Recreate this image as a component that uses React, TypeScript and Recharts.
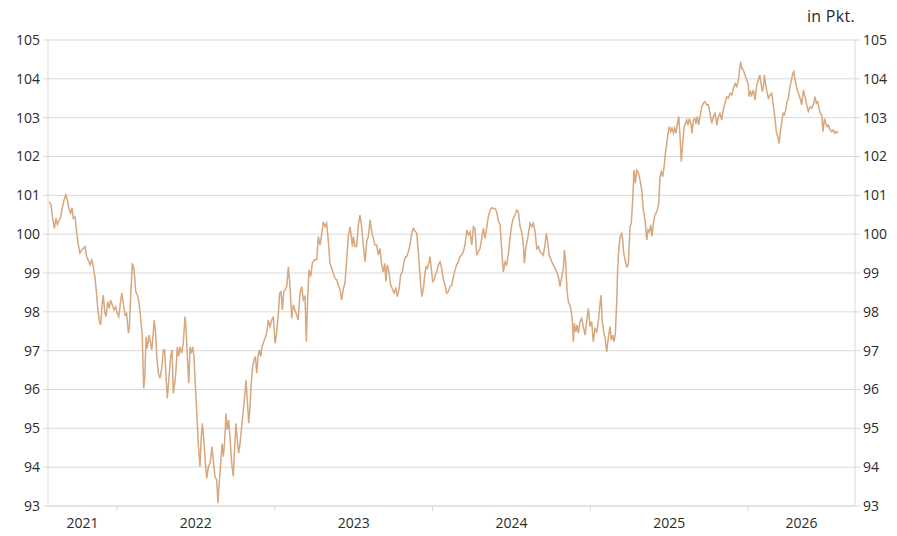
import React from "react";
import { LineChart, Line, XAxis, YAxis, CartesianGrid } from "recharts";

// Decimal-year positions of the sampled points
const dates: number[] = [
  // 2021 H2 – early 2022
  2021.571, 2021.582, 2021.592, 2021.603, 2021.613, 2021.622, 2021.632, 2021.643, 2021.653, 2021.664,
  2021.675, 2021.685, 2021.696, 2021.706, 2021.715, 2021.723, 2021.734, 2021.745, 2021.755, 2021.765,
  2021.776, 2021.786, 2021.797, 2021.808, 2021.818, 2021.829, 2021.840, 2021.850, 2021.861, 2021.871,
  2021.878, 2021.888, 2021.897, 2021.905, 2021.913, 2021.922, 2021.930, 2021.941, 2021.951, 2021.960,
  2021.970, 2021.981, 2021.992, 2022.002, 2022.011, 2022.019, 2022.030, 2022.040, 2022.051, 2022.061,
  2022.072, 2022.078, 2022.087, 2022.097, 2022.108, 2022.119, 2022.129, 2022.139, 2022.150, 2022.160,
  2022.169, 2022.176, 2022.184, 2022.192, 2022.203,
  // 2022
  2022.209, 2022.220, 2022.230, 2022.236, 2022.245, 2022.252, 2022.262, 2022.273, 2022.283, 2022.294,
  2022.302, 2022.311, 2022.319, 2022.330, 2022.340, 2022.349, 2022.357, 2022.366, 2022.374, 2022.382,
  2022.391, 2022.399, 2022.410, 2022.420, 2022.431, 2022.437, 2022.446, 2022.455, 2022.463, 2022.471,
  2022.480, 2022.488, 2022.496, 2022.505, 2022.515, 2022.526, 2022.534, 2022.541, 2022.552, 2022.560,
  2022.569, 2022.579, 2022.590, 2022.602, 2022.610, 2022.621, 2022.632, 2022.640, 2022.648, 2022.657,
  2022.666, 2022.674, 2022.683, 2022.691, 2022.699, 2022.708, 2022.716, 2022.727, 2022.737, 2022.746,
  2022.754, 2022.763, 2022.771, 2022.780, 2022.790, 2022.801, 2022.811, 2022.818, 2022.826, 2022.835,
  2022.843, 2022.851, 2022.860, 2022.868, 2022.877, 2022.886, 2022.894, 2022.902, 2022.911, 2022.919,
  2022.927,
  // 2023
  2022.949, 2022.959, 2022.970, 2022.981, 2022.991, 2023.002, 2023.012, 2023.023, 2023.031, 2023.040,
  2023.048, 2023.057, 2023.065, 2023.076, 2023.086, 2023.097, 2023.107, 2023.118, 2023.128, 2023.139,
  2023.149, 2023.160, 2023.171, 2023.181, 2023.192, 2023.200, 2023.209, 2023.217, 2023.228, 2023.238,
  2023.251, 2023.266, 2023.276, 2023.287, 2023.298, 2023.308, 2023.319, 2023.329, 2023.339, 2023.350,
  2023.361, 2023.371, 2023.382, 2023.393, 2023.403, 2023.414, 2023.424, 2023.435, 2023.445, 2023.456,
  2023.466, 2023.477, 2023.483, 2023.492, 2023.498, 2023.509, 2023.519, 2023.530, 2023.540, 2023.551,
  2023.561, 2023.572, 2023.583, 2023.593, 2023.604, 2023.615, 2023.625, 2023.635, 2023.646, 2023.656,
  // late 2023 – 2024
  2023.667, 2023.678, 2023.688, 2023.697, 2023.705, 2023.713, 2023.724, 2023.735, 2023.745, 2023.756,
  2023.767, 2023.777, 2023.788, 2023.798, 2023.809, 2023.819, 2023.828, 2023.836, 2023.847, 2023.857,
  2023.868, 2023.878, 2023.889, 2023.900, 2023.910, 2023.916, 2023.925, 2023.933, 2023.942, 2023.951,
  2023.959, 2023.967, 2023.976, 2023.984, 2023.992, 2024.001, 2024.010, 2024.018, 2024.027, 2024.037,
  2024.048, 2024.058, 2024.068, 2024.079, 2024.090, 2024.100, 2024.111, 2024.122, 2024.132, 2024.143,
  2024.153, 2024.164, 2024.174, 2024.185, 2024.195, 2024.206, 2024.217, 2024.227, 2024.238, 2024.249,
  2024.259, 2024.269, 2024.280, 2024.290, 2024.301, 2024.312, 2024.322, 2024.333, 2024.344, 2024.354,
  2024.365, 2024.375, 2024.385,
  // 2024 H2 – early 2025
  2024.396, 2024.407, 2024.417, 2024.428, 2024.434, 2024.441, 2024.449, 2024.460, 2024.470, 2024.481,
  2024.491, 2024.502, 2024.512, 2024.523, 2024.534, 2024.544, 2024.555, 2024.565, 2024.576, 2024.582,
  2024.591, 2024.599, 2024.607, 2024.618, 2024.629, 2024.639, 2024.650, 2024.661, 2024.671, 2024.681,
  2024.692, 2024.702, 2024.713, 2024.721, 2024.730, 2024.739, 2024.747, 2024.756, 2024.766, 2024.777,
  2024.787, 2024.798, 2024.808, 2024.819, 2024.829, 2024.836, 2024.844, 2024.853, 2024.861, 2024.870,
  2024.878, 2024.886, 2024.893, 2024.899, 2024.908, 2024.916, 2024.924, 2024.935, 2024.946, 2024.956,
  2024.967, 2024.978, 2024.988, 2024.998, 2025.009, 2025.019, 2025.030, 2025.041, 2025.051, 2025.062,
  2025.068, 2025.076, 2025.085, 2025.094, 2025.104, 2025.114,
  // 2025
  2025.125, 2025.133, 2025.142, 2025.151, 2025.159, 2025.168, 2025.174, 2025.182, 2025.190, 2025.199,
  2025.206, 2025.212, 2025.220, 2025.231, 2025.241, 2025.252, 2025.260, 2025.269, 2025.277, 2025.286,
  2025.294, 2025.305, 2025.315, 2025.326, 2025.336, 2025.347, 2025.358, 2025.366, 2025.374, 2025.383,
  2025.391, 2025.400, 2025.409, 2025.417, 2025.425, 2025.434, 2025.442, 2025.450, 2025.459, 2025.468,
  2025.476, 2025.485, 2025.493, 2025.501, 2025.510, 2025.518, 2025.527, 2025.535, 2025.544, 2025.552,
  2025.561, 2025.569, 2025.577, 2025.586, 2025.594, 2025.603, 2025.611, 2025.620, 2025.628, 2025.637,
  2025.645, 2025.653, 2025.662, 2025.670, 2025.679, 2025.687, 2025.696, 2025.706, 2025.717, 2025.727,
  2025.738, 2025.748, 2025.759, 2025.770, 2025.780, 2025.791, 2025.802, 2025.812, 2025.822, 2025.833,
  2025.843,
  // late 2025 – 2026
  2025.854, 2025.865, 2025.875, 2025.886, 2025.897, 2025.907, 2025.918, 2025.928, 2025.939, 2025.947,
  2025.954, 2025.960, 2025.970, 2025.981, 2025.992, 2026.002, 2026.006, 2026.015, 2026.023, 2026.034,
  2026.044, 2026.055, 2026.065, 2026.074, 2026.082, 2026.091, 2026.100, 2026.103, 2026.112, 2026.120,
  2026.129, 2026.139, 2026.150, 2026.160, 2026.171, 2026.179, 2026.188, 2026.197, 2026.205, 2026.214,
  2026.222, 2026.230, 2026.239, 2026.247, 2026.256, 2026.264, 2026.273, 2026.281, 2026.290, 2026.298,
  2026.309, 2026.319, 2026.330, 2026.340, 2026.351, 2026.361, 2026.372, 2026.382, 2026.393, 2026.404,
  2026.414, 2026.425, 2026.433, 2026.442, 2026.450, 2026.458, 2026.467, 2026.475, 2026.484, 2026.493,
  2026.501, 2026.509, 2026.520, 2026.531, 2026.541, 2026.552, 2026.562, 2026.569,
];

// Index values in points (in Pkt.)
const values: number[] = [
  100.84, 100.75, 100.41, 100.15, 100.41, 100.25, 100.34, 100.45, 100.67, 100.88,
  101.01, 100.88, 100.65, 100.54, 100.68, 100.41, 100.45, 100.02, 99.72, 99.51,
  99.59, 99.63, 99.68, 99.42, 99.33, 99.21, 99.33, 99.16, 98.86, 98.43,
  98.09, 97.75, 97.66, 98.18, 98.43, 98.0, 97.88, 98.26, 98.09, 98.3,
  98.18, 98.05, 98.13, 97.96, 97.88, 98.13, 98.48, 98.22, 97.92, 97.96,
  97.45, 97.58, 98.43, 99.25, 99.08, 98.52, 98.43, 98.26, 97.83, 97.4,
  96.03, 96.29, 97.36, 97.06, 97.4,
  97.27, 97.02, 97.45, 97.79, 97.45, 96.85, 96.42, 96.29, 96.54, 97.02,
  97.02, 96.33, 95.77, 96.33, 96.85, 97.02, 95.9, 96.16, 96.5, 97.1,
  96.85, 97.1, 96.93, 97.19, 97.88, 97.62, 96.85, 96.16, 97.1, 96.93,
  97.1, 96.85, 96.16, 95.47, 94.61, 94.01, 94.78, 95.13, 94.61, 94.1,
  93.71, 94.01, 94.1, 94.53, 94.18, 93.76, 93.67, 93.07, 93.58, 94.1,
  94.61, 94.27, 94.7, 95.39, 94.96, 95.21, 94.78, 94.1, 93.76, 94.53,
  95.13, 94.7, 94.36, 94.61, 95.04, 95.47, 95.9, 96.24, 95.73, 95.13,
  95.56, 96.16, 96.59, 96.76, 96.85, 96.42, 96.85, 97.02, 96.85, 97.1,
  97.19,
  97.45, 97.79, 97.62, 97.79, 97.88, 97.19, 97.45, 97.96, 98.48, 98.52,
  98.05, 98.52, 98.56, 98.65, 99.16, 98.65, 97.83, 98.18, 98.05, 97.92,
  97.79, 98.48, 98.65, 98.31, 98.39, 97.23, 98.39, 99.08, 98.91, 99.25,
  99.34, 99.34, 99.94, 99.72, 100.02, 100.32, 100.19, 100.28, 99.85, 99.25,
  99.12, 98.99, 98.86, 98.82, 98.69, 98.56, 98.31, 98.61, 98.73, 99.34,
  99.94, 100.19, 100.02, 99.68, 99.94, 99.68, 99.68, 100.24, 100.49, 100.19,
  99.72, 99.29, 99.81, 99.94, 100.37, 100.06, 99.89, 99.72, 99.72, 99.46,
  99.63, 99.21, 99.03, 99.25, 98.78, 99.21, 99.03, 98.69, 98.6, 98.48,
  98.6, 98.39, 98.6, 98.95, 99.03, 99.29, 99.42, 99.42, 99.55, 99.72,
  100.02, 100.15, 100.08, 100.02, 99.55, 99.21, 98.69, 98.39, 98.6, 98.95,
  99.16, 99.12, 99.25, 99.42, 99.12, 98.78, 98.82, 98.95, 99.03, 99.21,
  99.29, 99.12, 98.86, 98.69, 98.48, 98.52, 98.65, 98.69, 98.9, 99.08,
  99.21, 99.29, 99.42, 99.46, 99.55, 99.72, 100.11, 99.98, 100.06, 99.72,
  100.19, 100.15, 99.46, 99.55, 99.63, 99.89, 100.15, 99.89, 100.19, 100.45,
  100.62, 100.68, 100.66,
  100.66, 100.58, 100.36, 100.24, 99.89, 99.46, 99.03, 99.29, 99.21, 99.51,
  99.89, 100.24, 100.41, 100.49, 100.62, 100.58, 100.19, 100.06, 99.72, 99.25,
  99.63, 99.81, 99.98, 100.28, 100.19, 100.28, 100.06, 99.63, 99.68, 99.55,
  99.51, 99.46, 99.72, 100.02, 99.81, 99.46, 99.38, 99.29, 99.21, 99.12,
  99.03, 98.9, 98.65, 98.9, 99.12, 99.59, 99.29, 98.52, 98.26, 98.18,
  98.05, 97.79, 97.23, 97.7, 97.49, 97.66, 97.45, 97.75, 97.83, 97.62,
  97.4, 97.79, 98.09, 97.62, 97.75, 97.23, 97.57, 97.49, 97.75, 98.22,
  98.43, 97.75, 97.49, 97.32, 96.97, 97.32,
  97.62, 97.27, 97.4, 97.23, 97.45, 98.3, 99.16, 99.68, 99.94, 100.02,
  99.85, 99.51, 99.34, 99.16, 99.21, 100.19, 100.28, 100.88, 101.65, 101.31,
  101.65, 101.57, 101.4, 101.14, 100.62, 100.36, 99.85, 100.11, 100.06, 100.24,
  99.94, 100.28, 100.49, 100.54, 100.62, 100.79, 101.48, 101.61, 101.48, 101.74,
  102.08, 102.34, 102.6, 102.77, 102.64, 102.73, 102.6, 102.73, 102.6, 102.85,
  103.03, 102.51, 101.87, 102.34, 102.73, 102.85, 102.94, 102.81, 102.98, 102.85,
  102.6, 102.94, 102.98, 102.85, 103.03, 102.81, 103.03, 103.28, 103.37, 103.41,
  103.33, 103.33, 103.11, 102.85, 103.03, 103.11, 102.81, 103.03, 103.11, 102.94,
  103.2,
  103.37, 103.54, 103.5, 103.63, 103.58, 103.76, 103.88, 103.8, 103.97, 104.27,
  104.44, 104.27, 104.23, 104.1, 103.97, 103.84, 103.54, 103.67, 103.58, 103.71,
  103.45, 103.84, 103.97, 104.1, 103.88, 103.67, 103.88, 104.1, 103.84, 103.67,
  103.5, 103.58, 103.63, 103.33, 102.98, 102.64, 102.51, 102.34, 102.64, 102.9,
  103.11, 103.07, 103.2, 103.41, 103.5, 103.76, 103.93, 104.1, 104.19, 103.97,
  103.76, 103.63, 103.5, 103.33, 103.71, 103.54, 103.33, 103.16, 103.28, 103.24,
  103.33, 103.54, 103.37, 103.41, 103.24, 103.11, 103.07, 102.64, 102.98, 102.85,
  102.77, 102.81, 102.68, 102.64, 102.68, 102.6, 102.64, 102.6,
];

const yearLabels: string[] = ["2021", "2022", "2023", "2024", "2025", "2026"];
const yearBoundaries: number[] = [2022, 2023, 2024, 2025, 2026];
const yTicks: number[] = [93, 94, 95, 96, 97, 98, 99, 100, 101, 102, 103, 104, 105];
const xDomain: [number, number] = [2021.5626, 2026.678];
const unitLabel = "in Pkt.";

const data = dates.map((t, i) => ({ t, v: values[i] }));

// label positions: centre of each year's visible portion
const labelPositions = yearLabels.map((y) => {
  const start = Math.max(Number(y), xDomain[0]);
  const end = Math.min(Number(y) + 1, xDomain[1]);
  return (start + end) / 2;
});
const xTicks = [...yearBoundaries, ...labelPositions];

const GRID = "#d9d9d9";
const TEXT = "#2b2b2b";
const FONT = "'Open Sans', sans-serif";

const XTick = (props: any) => {
  const { x, y, payload } = props;
  const val = payload.value as number;
  if (yearBoundaries.includes(val)) {
    return <line x1={x} x2={x} y1={y} y2={y + 5} stroke={GRID} strokeWidth={1} />;
  }
  const idx = labelPositions.findIndex((p) => Math.abs(p - val) < 1e-6);
  return (
    <text x={x} y={y + 22} textAnchor="middle" fontSize={14} fill={TEXT} fontFamily={FONT}>
      {yearLabels[idx]}
    </text>
  );
};

export default function App() {
  return (
    <div
      style={{
        position: "absolute",
        left: 0,
        top: 0,
        width: 897,
        height: 536,
        background: "#ffffff",
        fontFamily: FONT,
      }}
    >
      <div
        style={{
          position: "absolute",
          right: 42,
          top: 5,
          fontSize: 16,
          lineHeight: "22px",
          letterSpacing: 0.3,
          color: TEXT,
          fontFamily: FONT,
        }}
      >
        {unitLabel}
      </div>
      <LineChart width={897} height={536} data={data} margin={{ top: 40, right: 0, bottom: 0, left: 0 }}>
        <CartesianGrid yAxisId="left" vertical={false} stroke={GRID} strokeWidth={1} />
        <XAxis
          dataKey="t"
          type="number"
          domain={xDomain}
          ticks={xTicks}
          interval={0}
          allowDataOverflow
          height={30}
          tickSize={0}
          tickMargin={0}
          tickLine={false}
          axisLine={{ stroke: GRID }}
          tick={XTick}
        />
        <YAxis
          yAxisId="left"
          orientation="left"
          width={48}
          domain={[93, 105]}
          ticks={yTicks}
          interval={0}
          allowDataOverflow
          tickSize={5}
          tickMargin={3}
          tickLine={{ stroke: GRID }}
          axisLine={{ stroke: GRID }}
          tick={{ fontSize: 14, fill: TEXT, fontFamily: FONT }}
        />
        <YAxis
          yAxisId="right"
          orientation="right"
          width={42}
          domain={[93, 105]}
          ticks={yTicks}
          interval={0}
          allowDataOverflow
          tickSize={5}
          tickMargin={3}
          tickLine={{ stroke: GRID }}
          axisLine={{ stroke: GRID }}
          tick={{ fontSize: 14, fill: TEXT, fontFamily: FONT }}
        />
        <Line
          yAxisId="right"
          type="linear"
          dataKey="v"
          stroke="none"
          dot={false}
          activeDot={false}
          isAnimationActive={false}
        />
        <Line
          yAxisId="left"
          type="linear"
          dataKey="v"
          stroke="#D7A77D"
          strokeWidth={1.5}
          dot={false}
          activeDot={false}
          isAnimationActive={false}
        />
      </LineChart>
    </div>
  );
}
